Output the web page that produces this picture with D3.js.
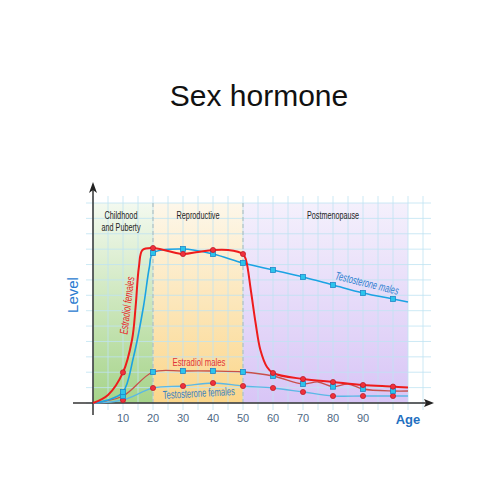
<!DOCTYPE html>
<html>
<head>
<meta charset="utf-8">
<script src="https://cdn.jsdelivr.net/npm/d3@7"></script>
<style>
  body { margin: 0; background: #fff; }
  svg { font-family: "Liberation Sans", Arial, sans-serif; }
</style>
</head>
<body>
<div id="chart"></div>
<script>
// ages where each curve was read, levels on a 0-100 scale
var estradiolFemalesAge = [0, 5, 10, 13, 14.2, 15.3, 16.5, 20, 25, 30, 35, 40, 45, 50, 51, 52.6, 54.2, 55.8, 58, 60, 70, 80, 90, 100, 105];
var estradiolFemales    = [0, 4, 15.3, 31.5, 48, 68, 76.5, 77.5, 76, 74.5, 75.5, 76.5, 76.5, 74.5, 71.5, 56.5, 40, 26.5, 18, 15, 12, 10.5, 9, 8.2, 7.7];

var testosteroneMalesAge = [0, 5, 10, 13.5, 16.8, 18.8, 20, 30, 40, 50, 60, 70, 80, 90, 100, 105];
var testosteroneMales    = [0, 1.5, 5.5, 23, 48, 68, 75, 77, 74.5, 70, 66.5, 63, 59, 55, 52, 50.5];

var estradiolMalesAge = [0, 10, 20, 30, 40, 50, 60, 70, 75, 80, 85, 90, 100, 105];
var estradiolMales    = [0, 3.5, 15.5, 16, 16, 15.5, 13.5, 9.5, 10.5, 8.2, 9.5, 7, 6, 6];

var testosteroneFemalesAge = [0, 10, 20, 30, 40, 50, 60, 70, 80, 90, 100, 105];
var testosteroneFemales    = [0, 1.5, 7.5, 8.5, 10, 8.5, 7.5, 5.5, 3.5, 3.5, 3.5, 3.5];

var xTicks = [10, 20, 30, 40, 50, 60, 70, 80, 90];
var periods = [
  { name: ["Childhood", "and Puberty"], from: 0, to: 20, top: "#f3f9ef", bottom: "#a6d48a" },
  { name: ["Reproductive"], from: 20, to: 50, top: "#fdf7ea", bottom: "#fbd68a" },
  { name: ["Postmenopause"], from: 50, to: 105, top: "#f4f0fc", bottom: "#d8c5f6" }
];

var width = 500, height = 500;
var svg = d3.select("#chart").append("svg")
    .attr("width", width)
    .attr("height", height);

var x = d3.scaleLinear().domain([0, 105]).range([93, 408]);
var y = d3.scaleLinear().domain([0, 100]).range([403, 203]);

// squeeze a label into the width it has in the picture
function fit(sel, w) {
    return sel.attr("textLength", w).attr("lengthAdjust", "spacingAndGlyphs");
}

// title
svg.append("text")
    .attr("x", 259).attr("y", 106)
    .attr("text-anchor", "middle")
    .attr("font-size", 30)
    .attr("fill", "#111")
    .text("Sex hormone");

// gradients for period backgrounds
var defs = svg.append("defs");
periods.forEach(function(p, i) {
    var g = defs.append("linearGradient")
        .attr("id", "grad" + i)
        .attr("x1", 0).attr("y1", 0).attr("x2", 0).attr("y2", 1);
    g.append("stop").attr("offset", "0%").attr("stop-color", p.top);
    g.append("stop").attr("offset", "100%").attr("stop-color", p.bottom);
});

svg.selectAll(".period")
    .data(periods)
    .enter().append("rect")
    .attr("class", "period")
    .attr("x", function(d) { return x(d.from); })
    .attr("y", y(100))
    .attr("width", function(d) { return x(d.to) - x(d.from); })
    .attr("height", y(0) - y(100))
    .attr("fill", function(d, i) { return "url(#grad" + i + ")"; });

// grid
var grid = svg.append("g").attr("stroke", "#bfe3f3").attr("stroke-width", 0.8);
d3.range(0, 111, 5).forEach(function(a) {
    grid.append("line")
        .attr("x1", x(a)).attr("x2", x(a))
        .attr("y1", 196).attr("y2", 410);
});
d3.range(0, 14).forEach(function(k) {
    var v = k * 100 / 13;
    grid.append("line")
        .attr("x1", 86).attr("x2", 431)
        .attr("y1", y(v)).attr("y2", y(v));
});

// period dividers
[20, 50].forEach(function(a) {
    svg.append("line")
        .attr("x1", x(a)).attr("x2", x(a))
        .attr("y1", y(100)).attr("y2", y(0))
        .attr("stroke", "#a9b9b9")
        .attr("stroke-width", 1)
        .attr("stroke-dasharray", "4,3");
});

// period labels
var periodLabelX = [121, 198, 333];
var periodLabelW = [[33, 39], [43], [52]];
periods.forEach(function(p, i) {
    p.name.forEach(function(s, j) {
        fit(svg.append("text")
            .attr("x", periodLabelX[i]).attr("y", 219 + j * 11.5)
            .attr("text-anchor", "middle")
            .attr("font-size", 11)
            .attr("fill", "#222")
            .text(s), periodLabelW[i][j]);
    });
});

// axes
svg.append("line")
    .attr("x1", 73).attr("x2", 428)
    .attr("y1", y(0)).attr("y2", y(0))
    .attr("stroke", "#333").attr("stroke-width", 1.5);
svg.append("path")
    .attr("d", "M434," + y(0) + " L424," + (y(0) - 4) + " L426," + y(0) + " L424," + (y(0) + 4) + "Z")
    .attr("fill", "#222");
svg.append("line")
    .attr("x1", 93).attr("x2", 93)
    .attr("y1", 415).attr("y2", 188)
    .attr("stroke", "#333").attr("stroke-width", 1.5);
svg.append("path")
    .attr("d", "M93,182 L89,193 L93,190 L97,193 Z")
    .attr("fill", "#222");

svg.selectAll(".tick-label")
    .data(xTicks)
    .enter().append("text")
    .attr("class", "tick-label")
    .attr("x", function(d) { return x(d); })
    .attr("y", 422)
    .attr("text-anchor", "middle")
    .attr("font-size", 11)
    .attr("fill", "#4f6985")
    .text(function(d) { return d; });

svg.append("text")
    .attr("x", 408).attr("y", 424)
    .attr("text-anchor", "middle")
    .attr("font-size", 13)
    .attr("font-weight", "bold")
    .attr("fill", "#1f6fc0")
    .text("Age");

svg.append("text")
    .attr("transform", "translate(78,295) rotate(-90)")
    .attr("text-anchor", "middle")
    .attr("font-size", 15)
    .attr("fill", "#2a7ad0")
    .text("Level");

// curves
var line = d3.line()
    .x(function(d) { return x(d.age); })
    .y(function(d) { return y(d.v); })
    .curve(d3.curveCatmullRom.alpha(0.5));

function series(ages, vals) {
    return ages.map(function(a, i) { return { age: a, v: vals[i] }; });
}
function marked(d) {
    return d.age >= 10 && d.age <= 100 && d.age % 10 === 0;
}

var curves = [
    { data: series(testosteroneFemalesAge, testosteroneFemales), color: "#5bb8e6", w: 1.3, marker: "circle" },
    { data: series(estradiolMalesAge, estradiolMales), color: "#c8504a", w: 1.3, marker: "square" },
    { data: series(testosteroneMalesAge, testosteroneMales), color: "#1ba3e3", w: 1.6, marker: "square" },
    { data: series(estradiolFemalesAge, estradiolFemales), color: "#ee1c1c", w: 2, marker: "circle" }
];

curves.forEach(function(c) {
    svg.append("path")
        .datum(c.data)
        .attr("d", line)
        .attr("fill", "none")
        .attr("stroke", c.color)
        .attr("stroke-width", c.w);
});

curves.forEach(function(c) {
    var pts = c.data.filter(marked);
    if (c.marker === "circle") {
        svg.selectAll(null)
            .data(pts)
            .enter().append("circle")
            .attr("cx", function(d) { return x(d.age); })
            .attr("cy", function(d) { return y(d.v); })
            .attr("r", 2.6)
            .attr("fill", "#f0303c")
            .attr("stroke", "#b81824")
            .attr("stroke-width", 0.7);
    } else {
        svg.selectAll(null)
            .data(pts)
            .enter().append("rect")
            .attr("x", function(d) { return x(d.age) - 2.6; })
            .attr("y", function(d) { return y(d.v) - 2.6; })
            .attr("width", 5.2)
            .attr("height", 5.2)
            .attr("fill", "#2bc4ec")
            .attr("stroke", "#1b7fc2")
            .attr("stroke-width", 0.7);
    }
});

// curve labels
fit(svg.append("text")
    .attr("transform", "translate(131,306) rotate(-83)")
    .attr("text-anchor", "middle")
    .attr("font-size", 11.5)
    .attr("font-style", "italic")
    .attr("fill", "#e8262a")
    .text("Estradiol females"), 58);

fit(svg.append("text")
    .attr("transform", "translate(366,287) rotate(14)")
    .attr("text-anchor", "middle")
    .attr("font-size", 11.5)
    .attr("font-style", "italic")
    .attr("fill", "#2d80cf")
    .text("Testosterone males"), 65);

fit(svg.append("text")
    .attr("x", 199).attr("y", 366)
    .attr("text-anchor", "middle")
    .attr("font-size", 11.5)
    .attr("fill", "#e0353a")
    .text("Estradiol males"), 53);

fit(svg.append("text")
    .attr("transform", "translate(199,397) rotate(-3)")
    .attr("text-anchor", "middle")
    .attr("font-size", 11.5)
    .attr("fill", "#3a7fbf")
    .text("Testosterone females"), 72);
</script>
</body>
</html>
